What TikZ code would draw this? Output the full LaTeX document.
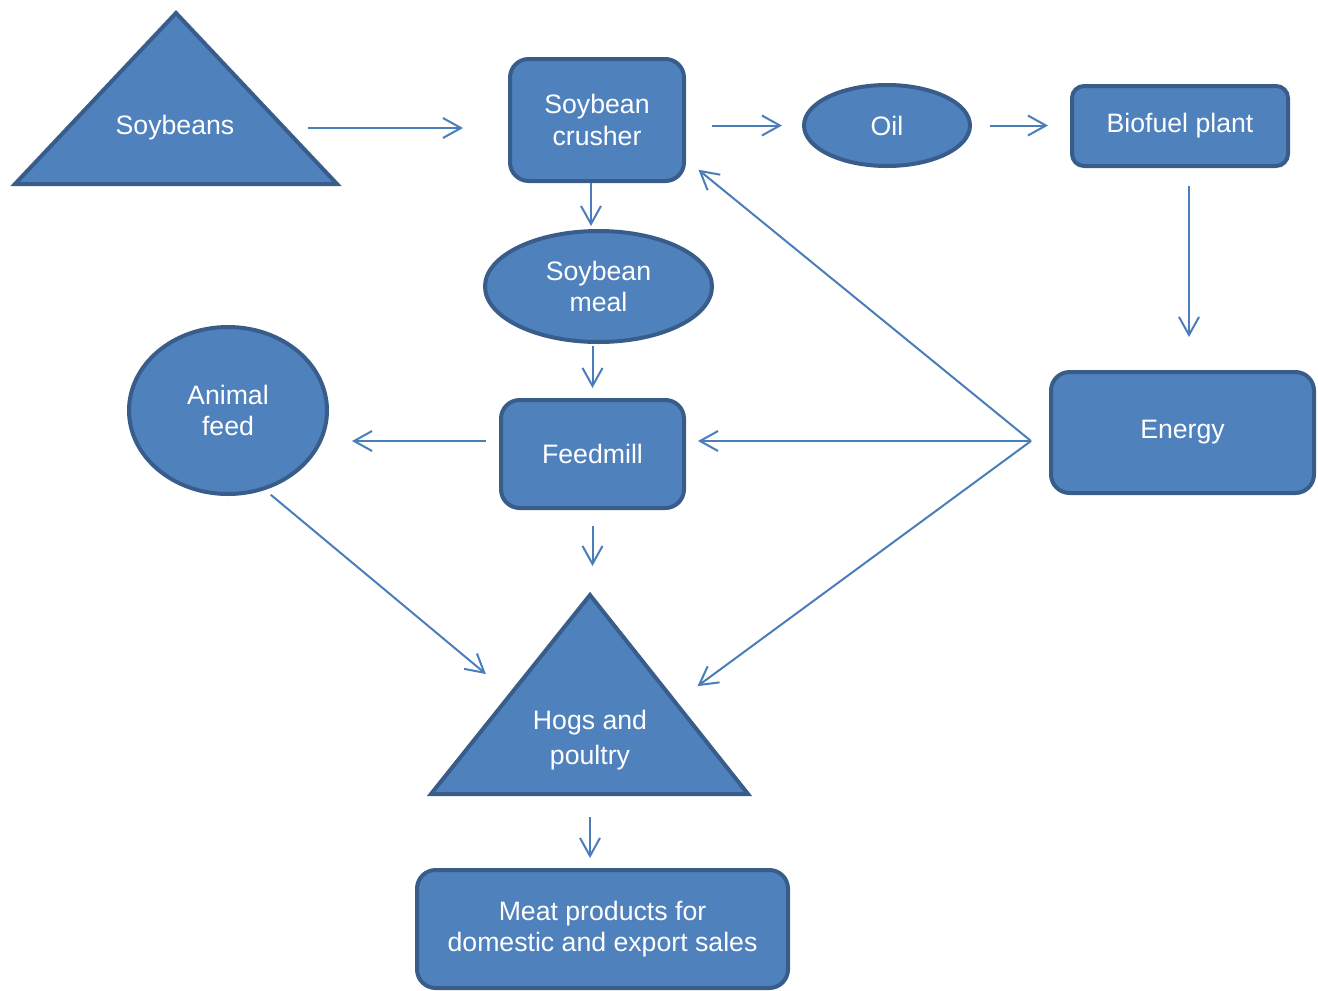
\documentclass[tikz,border=0pt]{standalone}
\usepackage{fontspec}
\setmainfont{Liberation Sans}
\usetikzlibrary{shapes.geometric,arrows.meta,calc}
\definecolor{boxfill}{HTML}{4F81BD}
\definecolor{boxline}{HTML}{385D8A}
\definecolor{flowline}{HTML}{4A7EBB}

\begin{document}
\begin{tikzpicture}[x=0.75pt, y=-0.75pt]
	\tikzstyle{every node} = [text=white, font=\fontsize{20}{23.5}\selectfont, align=center, inner sep=0pt]
	\tikzstyle{box} = [draw=boxline, fill=boxfill, line width=3pt, rounded corners=14pt]
	\tikzstyle{oval} = [draw=boxline, fill=boxfill, line width=3pt, ellipse]
	\tikzstyle{tri} = [draw=boxline, fill=boxfill, line width=3pt, line join=miter]
	\tikzstyle{flow} = [draw=flowline, line width=1.5pt, -{Straight Barb[length=13.5pt, width=15pt]}]
	\useasboundingbox (0,0) rectangle (1318,990);
	\coordinate (soyleft) at (15,184);
	\coordinate (soyright) at (337,184);
	\coordinate (soytop) at (176,13);
	\coordinate (hogleft) at (431,794);
	\coordinate (hogright) at (748,794);
	\coordinate (hogtop) at (590,595);
	\coordinate (hub) at (1031,441);
	\draw [tri] (soyleft) -- (soyright) -- (soytop) -- cycle;
	\draw [tri] (hogleft) -- (hogright) -- (hogtop) -- cycle;
	\node (soy) at (175,128) {Soybeans};
	\node (hogs) at (590,740) [font=\fontsize{20}{26}\selectfont] {Hogs and\\poultry};
	\node (crusher) at (597,120) [box, minimum width=130.5pt, minimum height=91.5pt] {Soybean\\crusher};
	\node (oil) at (887,125.5) [oval, minimum width=124.5pt, minimum height=60.75pt] {Oil};
	\node (bio) at (1180,126) [box, rounded corners=9pt, minimum width=162pt, minimum height=60pt] {Biofuel plant};
	\node (meal) at (598.5,286.5) [oval, minimum width=170.25pt, minimum height=83.25pt] {Soybean\\meal};
	\node (afeed) at (228,410.5) [oval, minimum width=148.5pt, minimum height=125.25pt] {Animal\\feed};
	\node (feed) at (592.5,454) [box, minimum width=137.25pt, minimum height=81pt] {Feedmill};
	\node (energy) at (1182.5,432.5) [box, minimum width=197.25pt, minimum height=90.75pt] {Energy};
	\node (meat) at (602.5,929) [box, minimum width=278.25pt, minimum height=88.5pt] {Meat products for\\domestic and export sales};
	\draw [flow, shorten <=55pt, shorten >=33.75pt] (soy.east) -- (soy -| crusher.west);
	\draw [flow, shorten <=19.5pt, shorten >=15pt] (crusher.east |- oil) -- (oil.west);
	\draw [flow, shorten <=13.5pt, shorten >=16.5pt] (oil.east) -- (oil -| bio.west);
	\draw [flow, shorten <=13.5pt, shorten >=24.75pt] ([xshift=6.75pt]bio.south) -- ([xshift=6.75pt]bio.south |- energy.north);
	\draw [flow, shorten >=2.25pt] ([xshift=-4.5pt]crusher.south) -- ([xshift=-4.5pt]crusher.south |- meal.north);
	\draw [flow, shorten <=1.5pt, shorten >=7.5pt] (meal.south -| feed.north) -- (feed.north);
	\draw [flow, shorten <=9.75pt, shorten >=17.25pt] ([yshift=9.75pt]feed.west) -- ([yshift=9.75pt]feed.west -| afeed.east);
	\draw [flow, shorten >=9pt] (hub) -- (hub -| feed.east);
	\draw [flow, shorten >=12pt] (hub) -- (crusher.-24);
	\draw [flow, shorten >=20.6pt] (hub) -- ($(hogtop)!0.54!(hogright)$);
	\draw [flow, shorten <=12pt, shorten >=21.75pt] (feed.south) -- (feed.south |- hogtop);
	\draw [flow, shorten <=5.5pt, shorten >=24pt] (afeed.-65) -- ($(hogtop)!0.5!(hogleft)$);
	\draw [flow, shorten <=17.25pt, shorten >=7.5pt] (hogtop |- hogleft) -- (hogtop |- meat.north);
\end{tikzpicture}
\end{document}
